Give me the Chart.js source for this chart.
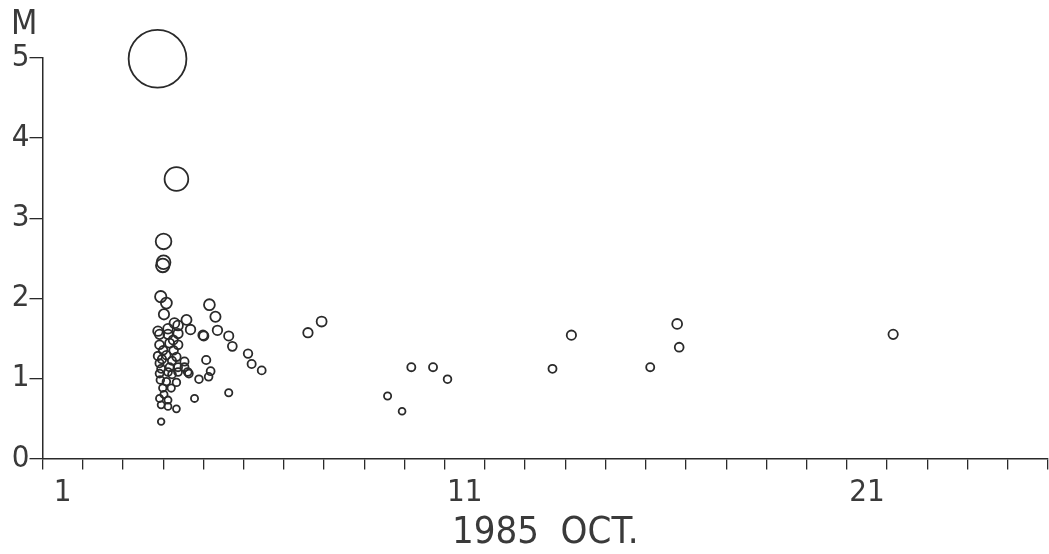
<!DOCTYPE html>
<html lang="en">
<head>
  <meta charset="UTF-8">
  <title>1985 Oct. M-T plot</title>
  <script src="https://cdn.jsdelivr.net/npm/chart.js"></script>
  <style>
    body { margin: 0; background: #fff; }
  </style>
</head>
<body>
  <canvas id="chartCanvas" width="1049" height="554"></canvas>

  <script>
    // origin time (day of Oct. 1985, fractional) and magnitude of each event
    const eventDays = [
      3.86, 4.33, 4.01, 3.99, 4.01, 3.94, 4.08, 4.02, 4.28, 4.58,
      3.87, 4.12, 4.37, 4.68, 5.15, 5.30, 5.35, 4.99, 5.01, 5.63,
      5.72, 6.11, 6.20, 6.45, 5.07, 5.18, 5.13, 4.89, 5.63, 4.78,
      3.91, 4.12, 4.37, 3.91, 4.16, 4.37, 3.87, 4.08, 4.33, 4.53,
      3.91, 3.95, 4.16, 4.37, 3.91, 4.12, 4.37, 4.61, 4.53, 4.64,
      4.08, 4.33, 3.99, 4.20, 3.91, 4.12, 3.95, 4.12, 4.33, 3.95,
      4.00, 4.22, 4.25, 3.97, 4.22, 4.02, 4.26, 3.93,
      7.60, 7.94, 9.58, 9.94, 10.17, 10.71, 11.07, 13.68, 14.15, 16.11,
      16.78, 16.83, 22.15
    ];
    const eventMags = [
      4.99, 3.49, 2.71, 2.41, 2.45, 2.02, 1.94, 1.80, 1.69, 1.73,
      1.59, 1.62, 1.66, 1.61, 1.92, 1.77, 1.60, 1.54, 1.53, 1.53,
      1.40, 1.31, 1.18, 1.10, 1.23, 1.09, 1.02, 0.99, 0.82, 0.75,
      1.55, 1.55, 1.56, 1.42, 1.44, 1.42, 1.28, 1.29, 1.27, 1.21,
      1.19, 1.12, 1.14, 1.14, 1.06, 1.08, 1.08, 1.08, 1.14, 1.06,
      0.96, 0.95, 0.88, 0.88, 0.75, 0.73, 0.67, 0.65, 0.62, 0.46,
      1.35, 1.22, 1.48, 1.24, 1.05, 0.80, 1.35, 0.98,
      1.57, 1.71, 0.78, 0.59, 1.14, 1.14, 0.99, 1.12, 1.54, 1.14,
      1.68, 1.39, 1.55
    ];

    const tickDays = [1, 2, 3, 4, 5, 6, 7, 8, 9, 10, 11, 12, 13,
                      14, 15, 16, 17, 18, 19, 20, 21, 22, 23, 24, 25, 26];
    const labelDays = [1, 11, 21];
    const magTicks = [0, 1, 2, 3, 4, 5];

    const ink = '#2a2a2a';
    const textInk = '#3a3a3a';
    const plotFont = "'DejaVu Sans Condensed', 'DejaVu Sans', sans-serif";

    // circle size grows with magnitude
    function circleSize(m) {
      return 2 + 0.95 * Math.exp(0.67 * m);
    }

    const points = eventDays.map((d, i) => ({ x: d, y: eventMags[i] }));

    const ctx = document.getElementById('chartCanvas').getContext('2d');
    new Chart(ctx, {
      type: 'bubble',
      data: {
        datasets: [{
          data: points,
          radius: c => circleSize(c.raw.y),
          borderColor: ink,
          borderWidth: 1.8,
          backgroundColor: 'rgba(0,0,0,0)',
          clip: false
        }]
      },
      options: {
        responsive: false,
        animation: false,
        events: [],
        layout: { autoPadding: false, padding: { left: 11, right: 1, top: 0, bottom: 0 } },
        plugins: {
          legend: { display: false },
          tooltip: { enabled: false },
          title: {
            display: true,
            text: 'M',
            align: 'start',
            color: textInk,
            font: { family: plotFont, size: 34, weight: 'normal', lineHeight: 1 },
            padding: { top: 8, bottom: 16 }
          }
        },
        scales: {
          x: {
            type: 'linear',
            min: 1,
            max: 26,
            afterBuildTicks: s => { s.ticks = tickDays.map(v => ({ value: v })); },
            afterFit: s => { s.height = 95.5; s.paddingLeft = 0; s.paddingRight = 0; },
            grid: { drawOnChartArea: false, drawTicks: true, tickLength: 11, color: ink, lineWidth: 1.3 },
            border: { display: true, color: ink, width: 1.5 },
            ticks: {
              autoSkip: false,
              maxRotation: 0,
              padding: 5,
              labelOffset: 20.1,
              color: textInk,
              font: { family: plotFont, size: 31 },
              callback: v => labelDays.includes(v) ? String(v) : ''
            },
            title: {
              display: true,
              text: '1985  OCT.',
              color: textInk,
              font: { family: plotFont, size: 38, lineHeight: 1 },
              padding: { top: 0, bottom: 2 }
            }
          },
          y: {
            min: 0,
            max: 5,
            afterBuildTicks: s => { s.ticks = magTicks.map(v => ({ value: v })); },
            afterFit: s => { s.width = 31.5; s.paddingTop = 0; s.paddingBottom = 0; },
            grid: { drawOnChartArea: false, drawTicks: true, tickLength: 13, color: ink, lineWidth: 1.3 },
            border: { display: true, color: ink, width: 1.5 },
            ticks: {
              padding: 0,
              color: textInk,
              font: { family: plotFont, size: 31 }
            }
          }
        }
      }
    });
  </script>
</body>
</html>
